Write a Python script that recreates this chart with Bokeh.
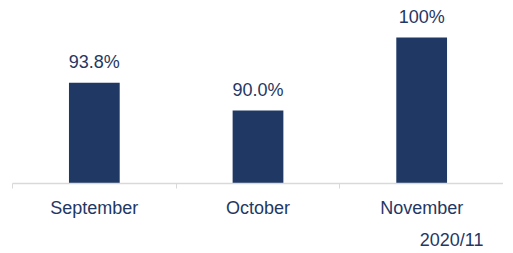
from bokeh.plotting import figure
from bokeh.models import ColumnDataSource, FixedTicker, Range1d, Title
from bokeh.core.properties import value
from bokeh.embed import file_html
from bokeh.resources import INLINE

months = ["September", "October", "November"]
values = [93.8, 90.0, 100.0]
value_labels = ["93.8%", "90.0%", "100%"]
date_note = "2020/11"

NAVY = "#1F3864"
FONT = "Liberation Sans"

xs = [i + 0.5 for i in range(len(months))]
src = ColumnDataSource(dict(x=xs, top=values, label=value_labels))

p = figure(frame_width=491, frame_height=183, output_backend="svg", toolbar_location=None,
           x_range=Range1d(0, len(months)), y_range=Range1d(80, 105.07),
           min_border_left=12, min_border_right=0, min_border_top=0, min_border_bottom=0)
p.outline_line_color = None
p.background_fill_color = None
p.border_fill_color = None
p.xgrid.visible = False
p.ygrid.visible = False
p.yaxis.visible = False

p.vbar(x="x", top="top", bottom=80, width=0.31, source=src, color=NAVY, line_color=None)
p.text(x="x", y="top", text="label", source=src, text_align="center",
       text_baseline="alphabetic", y_offset=-21, text_color=NAVY,
       text_font=value(FONT), text_font_size=value("18px"))

ax = p.xaxis[0]
ax.ticker = FixedTicker(ticks=xs, minor_ticks=list(range(len(months) + 1)))
ax.major_label_overrides = {x: m for x, m in zip(xs, months)}
ax.major_tick_line_color = None
ax.major_tick_out = 0
ax.major_tick_in = 0
ax.minor_tick_out = 5
ax.minor_tick_in = 0
ax.minor_tick_line_color = "#D9D9D9"
ax.axis_line_color = "#D9D9D9"
ax.axis_line_width = 1.5
ax.major_label_standoff = 9
ax.major_label_text_font = FONT
ax.major_label_text_font_size = "18px"
ax.major_label_text_color = NAVY

t = Title(text=date_note, align="right", text_font=FONT, text_font_size="18px",
          text_font_style="normal", text_color=NAVY, offset=20, standoff=15)
p.add_layout(t, "below")

open("out.html", "w").write(file_html(p, INLINE))
